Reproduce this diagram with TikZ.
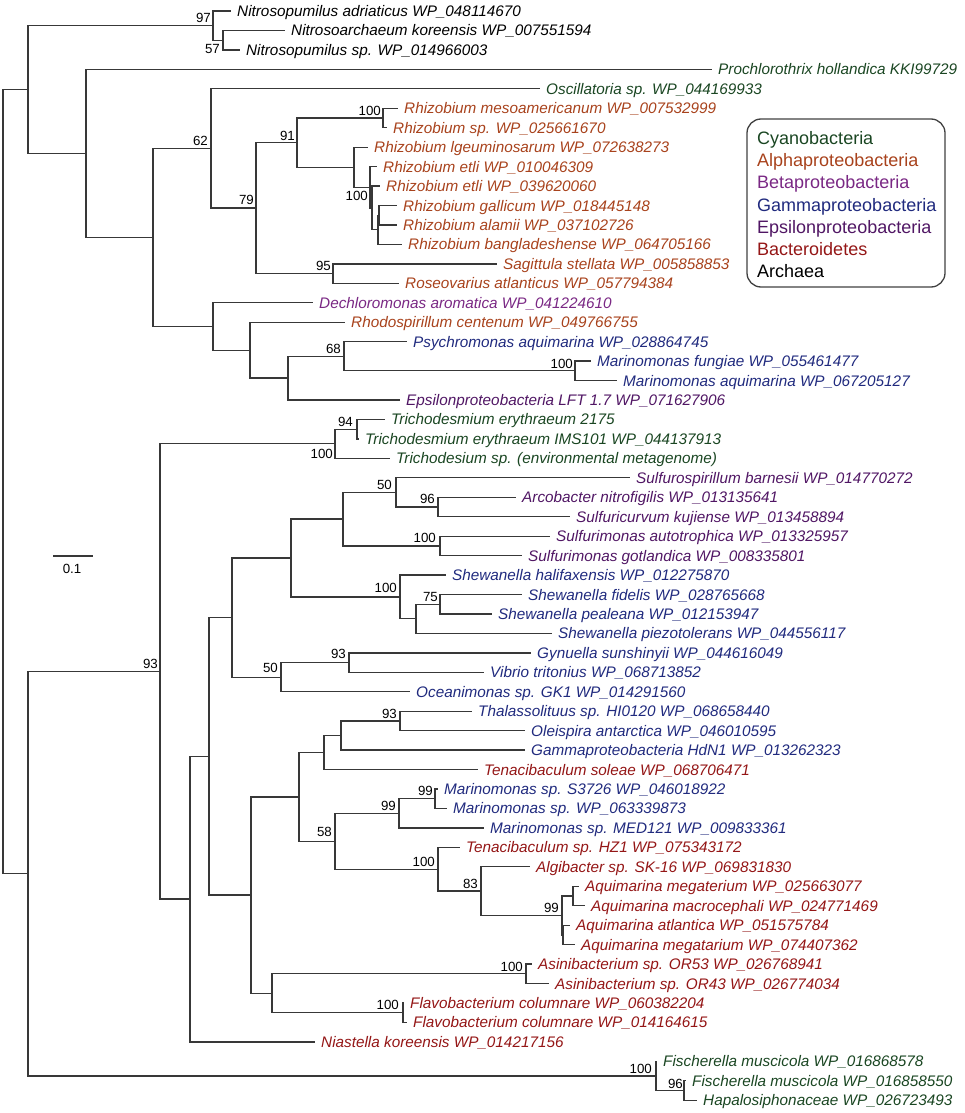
\documentclass[tikz,border=0pt]{standalone}
\usepackage{fontspec}
\setmainfont{Liberation Sans}
\definecolor{cyano}{RGB}{26,70,34}
\definecolor{calpha}{RGB}{168,66,28}
\definecolor{cbeta}{RGB}{122,40,132}
\definecolor{cgamma}{RGB}{32,42,126}
\definecolor{ceps}{RGB}{80,22,100}
\definecolor{cbact}{RGB}{148,22,22}
\newcommand\lf[5]{\node[leaf,text=#4] (#1) at (#2,#3) {#5};}
\begin{document}
\begin{tikzpicture}[x=1pt,y=-1pt,
 br/.style={draw=black!78, line width=1.3pt},
 leaf/.style={anchor=west, inner xsep=6pt, inner ysep=0pt, text height=11pt, text depth=0pt, font=\fontsize{15.3}{18}\selectfont\itshape},
 sup/.style={inner sep=0pt, font=\fontsize{13.3}{15}\selectfont},
 legtxt/.style={anchor=base west, inner sep=0pt, font=\fontsize{18}{21}\selectfont}]
\useasboundingbox (0,0) rectangle (964,1113);
% leaves
\lf{l1}{231}{11}{black}{Nitrosopumilus adriaticus WP\_048114670}
\lf{l2}{285}{30.45}{black}{Nitrosoarchaeum koreensis WP\_007551594}
\lf{l3}{240}{49.9}{black}{Nitrosopumilus sp. WP\_014966003}
\lf{l4}{712}{69.35}{cyano}{Prochlorothrix hollandica KKI99729}
\lf{l5}{540}{88.8}{cyano}{Oscillatoria sp. WP\_044169933}
\lf{l6}{398}{108.25}{calpha}{Rhizobium mesoamericanum WP\_007532999}
\lf{l7}{387}{127.7}{calpha}{Rhizobium sp. WP\_025661670}
\lf{l8}{368}{147.15}{calpha}{Rhizobium lgeuminosarum WP\_072638273}
\lf{l9}{377}{166.6}{calpha}{Rhizobium etli WP\_010046309}
\lf{l10}{380}{186.05}{calpha}{Rhizobium etli WP\_039620060}
\lf{l11}{397}{205.5}{calpha}{Rhizobium gallicum WP\_018445148}
\lf{l12}{397}{224.95}{calpha}{Rhizobium alamii WP\_037102726}
\lf{l13}{402}{244.4}{calpha}{Rhizobium bangladeshense WP\_064705166}
\lf{l14}{497}{263.85}{calpha}{Sagittula stellata WP\_005858853}
\lf{l15}{399}{283.3}{calpha}{Roseovarius atlanticus WP\_057794384}
\lf{l16}{313}{302.75}{cbeta}{Dechloromonas aromatica WP\_041224610}
\lf{l17}{345}{322.2}{calpha}{Rhodospirillum centenum WP\_049766755}
\lf{l18}{407}{341.65}{cgamma}{Psychromonas aquimarina WP\_028864745}
\lf{l19}{591}{361.1}{cgamma}{Marinomonas fungiae WP\_055461477}
\lf{l20}{617}{380.55}{cgamma}{Marinomonas aquimarina WP\_067205127}
\lf{l21}{400}{400}{ceps}{Epsilonproteobacteria LFT 1.7 WP\_071627906}
\lf{l22}{385}{419.45}{cyano}{Trichodesmium erythraeum 2175}
\lf{l23}{359}{438.9}{cyano}{Trichodesmium erythraeum IMS101 WP\_044137913}
\lf{l24}{390}{458.35}{cyano}{Trichodesium sp. (environmental metagenome)}
\lf{l25}{630}{477.8}{ceps}{Sulfurospirillum barnesii WP\_014770272}
\lf{l26}{516}{497.25}{ceps}{Arcobacter nitrofigilis WP\_013135641}
\lf{l27}{570}{516.7}{ceps}{Sulfuricurvum kujiense WP\_013458894}
\lf{l28}{550}{536.15}{ceps}{Sulfurimonas autotrophica WP\_013325957}
\lf{l29}{522}{555.6}{ceps}{Sulfurimonas gotlandica WP\_008335801}
\lf{l30}{446}{575.05}{cgamma}{Shewanella halifaxensis WP\_012275870}
\lf{l31}{522}{594.5}{cgamma}{Shewanella fidelis WP\_028765668}
\lf{l32}{492}{613.95}{cgamma}{Shewanella pealeana WP\_012153947}
\lf{l33}{552}{633.4}{cgamma}{Shewanella piezotolerans WP\_044556117}
\lf{l34}{531}{652.85}{cgamma}{Gynuella sunshinyii WP\_044616049}
\lf{l35}{484}{672.3}{cgamma}{Vibrio tritonius WP\_068713852}
\lf{l36}{410}{691.75}{cgamma}{Oceanimonas sp. GK1 WP\_014291560}
\lf{l37}{472}{711.2}{cgamma}{Thalassolituus sp. HI0120 WP\_068658440}
\lf{l38}{525}{730.65}{cgamma}{Oleispira antarctica WP\_046010595}
\lf{l39}{525}{750.1}{cgamma}{Gammaproteobacteria HdN1 WP\_013262323}
\lf{l40}{478}{769.55}{cbact}{Tenacibaculum soleae WP\_068706471}
\lf{l41}{438}{789}{cgamma}{Marinomonas sp. S3726 WP\_046018922}
\lf{l42}{447}{808.45}{cgamma}{Marinomonas sp. WP\_063339873}
\lf{l43}{484}{827.9}{cgamma}{Marinomonas sp. MED121 WP\_009833361}
\lf{l44}{460}{847.35}{cbact}{Tenacibaculum sp. HZ1 WP\_075343172}
\lf{l45}{530}{866.8}{cbact}{Algibacter sp. SK-16 WP\_069831830}
\lf{l46}{579}{886.25}{cbact}{Aquimarina megaterium WP\_025663077}
\lf{l47}{585}{905.7}{cbact}{Aquimarina macrocephali WP\_024771469}
\lf{l48}{570}{925.15}{cbact}{Aquimarina atlantica WP\_051575784}
\lf{l49}{575}{944.6}{cbact}{Aquimarina megatarium WP\_074407362}
\lf{l50}{532}{964.05}{cbact}{Asinibacterium sp. OR53 WP\_026768941}
\lf{l51}{549}{983.5}{cbact}{Asinibacterium sp. OR43 WP\_026774034}
\lf{l52}{404}{1002.95}{cbact}{Flavobacterium columnare WP\_060382204}
\lf{l53}{407}{1022.4}{cbact}{Flavobacterium columnare WP\_014164615}
\lf{l54}{315}{1041.85}{cbact}{Niastella koreensis WP\_014217156}
\lf{l55}{657}{1061.3}{cyano}{Fischerella muscicola WP\_016868578}
\lf{l56}{686}{1080.75}{cyano}{Fischerella muscicola WP\_016858550}
\lf{l57}{697}{1100.2}{cyano}{Hapalosiphonaceae WP\_026723493}
% internal nodes
\coordinate (root) at (3,481.6);
\coordinate (A) at (28,89.5);
\coordinate (Ar) at (213,25.6);
\coordinate (Ar2) at (223,40.2);
\coordinate (C) at (86,153.4);
\coordinate (D) at (153,237.5);
\coordinate (E) at (211,148.45);
\coordinate (G) at (256,208.1);
\coordinate (H) at (297,142.6);
\coordinate (R1) at (383,118);
\coordinate (R2) at (354,167.2);
\coordinate (R3) at (370,187.3);
\coordinate (R4) at (372,207.9);
\coordinate (R5) at (378,229.8);
\coordinate (R6) at (379,215.2);
\coordinate (S) at (333,273.6);
\coordinate (F) at (213,326.5);
\coordinate (K) at (250,350.2);
\coordinate (M) at (288,378.1);
\coordinate (N) at (344,356.2);
\coordinate (O) at (575,370.8);
\coordinate (T) at (28,873.7);
\coordinate (U) at (160,671.5);
\coordinate (Tr) at (335,443.8);
\coordinate (Tr2) at (357,429.2);
\coordinate (V) at (190,899.1);
\coordinate (W) at (209,756.3);
\coordinate (X) at (232,617.6);
\coordinate (P) at (291,558);
\coordinate (P1) at (343,519.1);
\coordinate (P11) at (396,492.4);
\coordinate (P111) at (438,507);
\coordinate (P12) at (440,545.9);
\coordinate (P2) at (400,596.9);
\coordinate (P21) at (416,618.8);
\coordinate (P211) at (440,604.2);
\coordinate (Q) at (281,677.2);
\coordinate (Q1) at (349,662.6);
\coordinate (Y) at (251,895);
\coordinate (Z) at (299,796.9);
\coordinate (Z1) at (324,752.5);
\coordinate (Z11) at (341,735.5);
\coordinate (Z111) at (400,720.9);
\coordinate (Z2) at (335,841.3);
\coordinate (Z21) at (399,813.3);
\coordinate (Z211) at (435,798.7);
\coordinate (Z22) at (438,869.2);
\coordinate (Z221) at (481,891.1);
\coordinate (Z2211) at (562,915.4);
\coordinate (Aq1) at (573,896);
\coordinate (Aq2) at (563,934.9);
\coordinate (Ab) at (272,993.2);
\coordinate (As) at (526,973.8);
\coordinate (Fl) at (403,1012.7);
\coordinate (Fi) at (656,1075.9);
\coordinate (Fi2) at (684,1090.5);
% branches
\foreach \p/\c in {root/A, root/T,
 A/Ar, A/C, Ar/l1, Ar/Ar2, Ar2/l2, Ar2/l3,
 C/l4, C/D, D/E, D/F, E/l5, E/G, G/H, G/S, H/R1, H/R2, R1/l6, R1/l7,
 R2/l8, R2/R3, R3/l9, R3/R4, R4/l10, R4/R5, R5/R6, R5/l13, R6/l11, R6/l12, S/l14, S/l15,
 F/l16, F/K, K/l17, K/M, M/N, M/l21, N/l18, N/O, O/l19, O/l20,
 T/U, T/Fi, U/Tr, U/V, Tr/Tr2, Tr/l24, Tr2/l22, Tr2/l23,
 V/W, V/l54, W/X, W/Y, X/P, X/Q, P/P1, P/P2, P1/P11, P1/P12, P11/l25, P11/P111,
 P111/l26, P111/l27, P12/l28, P12/l29, P2/l30, P2/P21, P21/P211, P21/l33, P211/l31, P211/l32,
 Q/Q1, Q/l36, Q1/l34, Q1/l35,
 Y/Z, Y/Ab, Z/Z1, Z/Z2, Z1/Z11, Z1/l40, Z11/Z111, Z11/l39, Z111/l37, Z111/l38,
 Z2/Z21, Z2/Z22, Z21/Z211, Z21/l43, Z211/l41, Z211/l42, Z22/l44, Z22/Z221,
 Z221/l45, Z221/Z2211, Z2211/Aq1, Z2211/Aq2, Aq1/l46, Aq1/l47, Aq2/l48, Aq2/l49,
 Ab/As, Ab/Fl, As/l50, As/l51, Fl/l52, Fl/l53,
 Fi/l55, Fi/Fi2, Fi2/l56, Fi2/l57}
 \draw[br] (\p) |- (\c);
% support values
\node[sup,anchor=south east] (s1) at ([shift={(-2,-3)}]Ar) {97};
\node[sup,anchor=north east] (s2) at ([shift={(-3,4)}]Ar2) {57};
\node[sup,anchor=south east] (s3) at ([shift={(-3,-2.5)}]E) {62};
\node[sup,anchor=south east] (s4) at ([shift={(-2,-3)}]G) {79};
\node[sup,anchor=south east] (s5) at ([shift={(-2,-2)}]H) {91};
\node[sup,anchor=south east] (s6) at ([shift={(-2,-2)}]R1) {100};
\node[sup,anchor=north east] (s7) at ([shift={(-2,3.5)}]R3) {100};
\node[sup,anchor=south east] (s8) at ([shift={(-2,-3)}]S) {95};
\node[sup,anchor=south east] (s9) at ([shift={(-3,-2.5)}]N) {68};
\node[sup,anchor=south east] (s10) at ([shift={(-2,-2)}]O) {100};
\node[sup,anchor=south east] (s11) at ([shift={(-4,-2)}]Tr2) {94};
\node[sup,anchor=north east] (s12) at ([shift={(-2,5)}]Tr) {100};
\node[sup,anchor=south east] (s13) at ([shift={(-2,-3)}]U) {93};
\node[sup,anchor=south east] (s14) at ([shift={(-4,-2.5)}]P11) {50};
\node[sup,anchor=south east] (s15) at ([shift={(-3,-3)}]P111) {96};
\node[sup,anchor=south east] (s16) at ([shift={(-4,-3)}]P12) {100};
\node[sup,anchor=south east] (s17) at ([shift={(-3,-4)}]P2) {100};
\node[sup,anchor=south east] (s18) at ([shift={(-2,-2)}]P211) {75};
\node[sup,anchor=south east] (s19) at ([shift={(-3,-3.5)}]Q1) {93};
\node[sup,anchor=south east] (s20) at ([shift={(-3,-4)}]Q) {50};
\node[sup,anchor=south east] (s21) at ([shift={(-3,-2)}]Z111) {93};
\node[sup,anchor=south east] (s22) at ([shift={(-2,-3)}]Z211) {99};
\node[sup,anchor=south east] (s23) at ([shift={(-3,-2)}]Z21) {99};
\node[sup,anchor=south east] (s24) at ([shift={(-3,-4)}]Z2) {58};
\node[sup,anchor=south east] (s25) at ([shift={(-3,-2)}]Z22) {100};
\node[sup,anchor=south east] (s26) at ([shift={(-3,-2)}]Z221) {83};
\node[sup,anchor=south east] (s27) at ([shift={(-3,-2.5)}]Z2211) {99};
\node[sup,anchor=south east] (s28) at ([shift={(-3,-2)}]As) {100};
\node[sup,anchor=south east] (s29) at ([shift={(-4,-3)}]Fl) {100};
\node[sup,anchor=south east] (s30) at ([shift={(-4,-2)}]Fi) {100};
\node[sup,anchor=south east] (s31) at ([shift={(-1,-1.5)}]Fi2) {96};
% scale bar
\coordinate (sb1) at (53,556);
\coordinate (sb2) at (93,556);
\draw[br] (sb1) -- (sb2);
\node[sup] (sbl) at (72,569) {0.1};
% legend
\node[draw=black!75, line width=1.3pt, rounded corners=14pt, minimum width=198pt, minimum height=168pt, inner sep=0pt] (legend) at (846,203) {};
\node[legtxt,text=cyano] (g1) at (757,144.4) {Cyanobacteria};
\node[legtxt,text=calpha] (g2) at (757,166.6) {Alphaproteobacteria};
\node[legtxt,text=cbeta] (g3) at (757,188.8) {Betaproteobacteria};
\node[legtxt,text=cgamma] (g4) at (757,211) {Gammaproteobacteria};
\node[legtxt,text=ceps] (g5) at (757,233.1) {Epsilonproteobacteria};
\node[legtxt,text=cbact] (g6) at (757,255.3) {Bacteroidetes};
\node[legtxt,text=black] (g7) at (757,277.5) {Archaea};
\end{tikzpicture}
\end{document}
